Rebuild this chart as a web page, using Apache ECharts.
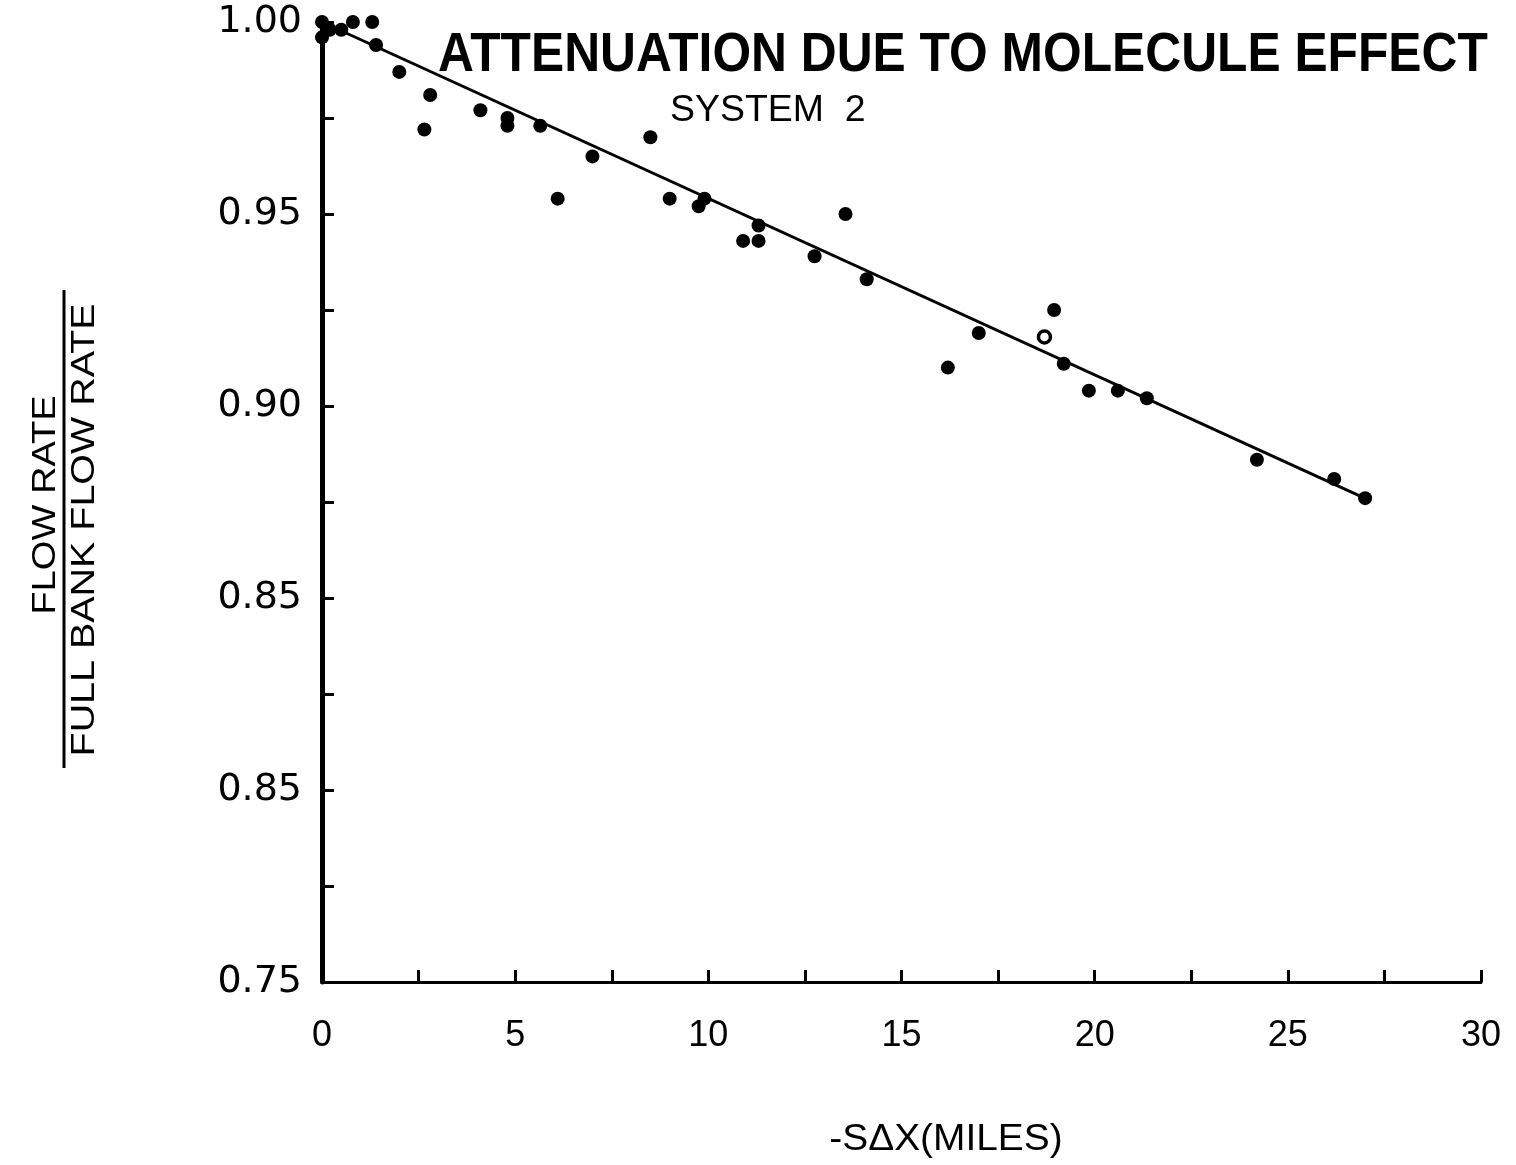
<!DOCTYPE html>
<html>
<head>
<meta charset="utf-8">
<title>Attenuation due to molecule effect</title>
<script src="https://cdn.jsdelivr.net/npm/echarts@6/dist/echarts.min.js"></script>
<style>
  html, body { margin: 0; padding: 0; background: #fff; }
  #main { width: 1516px; height: 1165px; }
</style>
</head>
<body>
<div id="main"></div>
<script>
// measured points (-S dX in miles, flow rate ratio)
var xValues = [0, 0, 0.2, 0.5, 0.8, 1.3, 1.4, 2.0, 2.8, 2.65, 4.1, 4.8, 4.8, 5.65, 7.0, 8.5,
  6.1, 9.0, 9.9, 9.75, 11.3, 10.9, 11.3, 13.55, 12.75, 14.1, 16.2, 17.0, 18.95, 19.2,
  19.85, 20.6, 21.35, 24.2, 26.2, 27.0];
var yValues = [1.000, 0.996, 0.998, 0.998, 1.000, 1.000, 0.994, 0.987, 0.981, 0.972, 0.977, 0.975, 0.973, 0.973, 0.965, 0.970,
  0.954, 0.954, 0.954, 0.952, 0.947, 0.943, 0.943, 0.950, 0.939, 0.933, 0.910, 0.919, 0.925, 0.911,
  0.904, 0.904, 0.902, 0.886, 0.881, 0.876];
// the one open circle
var openX = [18.7];
var openY = [0.918];
// fitted straight line
var fitX = [0, 27.1];
var fitY = [1.000, 0.8755];

// tick labels as printed on the figure (0.85 appears twice in the original)
var xTickValues = [0, 5, 10, 15, 20, 25, 30];
var xTickLabels = ['0', '5', '10', '15', '20', '25', '30'];
var yTickValues = [0.75, 0.80, 0.85, 0.90, 0.95, 1.00];
var yTickLabels = ['0.75', '0.85', '0.85', '0.90', '0.95', '1.00'];

function pairs(xs, ys) {
  var out = [];
  for (var i = 0; i < xs.length; i++) out.push([xs[i], ys[i]]);
  return out;
}

function lookup(vals, labels, v) {
  for (var i = 0; i < vals.length; i++) {
    if (Math.abs(vals[i] - v) < 1e-6) return labels[i];
  }
  return '';
}

var myChart = echarts.init(document.getElementById('main'));

var option = {
  backgroundColor: '#fff',
  animation: false,
  grid: { left: 322, right: 35, top: 22, bottom: 183 },
  xAxis: {
    type: 'value',
    min: 0, max: 30, interval: 2.5,
    axisLine: { lineStyle: { color: '#000', width: 3 } },
    axisTick: { inside: true, length: 12, lineStyle: { color: '#000', width: 3 } },
    axisLabel: {
      margin: 36,
      color: '#000',
      fontFamily: 'Liberation Sans',
      fontSize: 36,
      formatter: function (v) { return lookup(xTickValues, xTickLabels, v); }
    },
    splitLine: { show: false }
  },
  yAxis: {
    type: 'value',
    min: 0.75, max: 1.0, interval: 0.025,
    axisLine: { lineStyle: { color: '#000', width: 5 } },
    axisTick: { inside: true, length: 12, lineStyle: { color: '#000', width: 3 } },
    axisLabel: {
      margin: 20,
      color: '#000',
      fontFamily: 'DejaVu Sans',
      fontSize: 38,
      formatter: function (v) { return lookup(yTickValues, yTickLabels, v); }
    },
    splitLine: { show: false }
  },
  graphic: [
    {
      type: 'text', x: 438, y: 56, scaleX: 0.888,
      style: {
        text: 'ATTENUATION DUE TO MOLECULE EFFECT',
        font: 'bold 56px "Liberation Sans"',
        fill: '#000', align: 'left', verticalAlign: 'middle'
      }
    },
    {
      type: 'text', x: 670, y: 111, scaleX: 1.04,
      style: {
        text: 'SYSTEM  2',
        font: '36px "Liberation Sans"',
        fill: '#000', align: 'left', verticalAlign: 'middle'
      }
    },
    {
      type: 'text', x: 946, y: 1140, scaleX: 1.08,
      style: {
        text: '-S\u0394X(MILES)',
        font: '36px "Liberation Sans"',
        fill: '#000', align: 'center', verticalAlign: 'middle'
      }
    },
    {
      type: 'text', x: 46, y: 505, rotation: Math.PI / 2, scaleX: 1.12,
      style: {
        text: 'FLOW RATE',
        font: '34px "Liberation Sans"',
        fill: '#000', align: 'center', verticalAlign: 'middle'
      }
    },
    {
      type: 'line',
      shape: { x1: 64, y1: 290, x2: 64, y2: 768 },
      style: { stroke: '#000', lineWidth: 3 }
    },
    {
      type: 'text', x: 85, y: 530, rotation: Math.PI / 2, scaleX: 1.16,
      style: {
        text: 'FULL BANK FLOW RATE',
        font: '34px "Liberation Sans"',
        fill: '#000', align: 'center', verticalAlign: 'middle'
      }
    }
  ],
  series: [
    {
      type: 'line',
      data: pairs(fitX, fitY),
      symbol: 'none',
      lineStyle: { color: '#000', width: 3 },
      z: 2
    },
    {
      type: 'scatter',
      data: pairs(xValues, yValues),
      symbol: 'circle',
      symbolSize: 14,
      itemStyle: { color: '#000', opacity: 1 },
      z: 3
    },
    {
      type: 'scatter',
      data: pairs(openX, openY),
      symbol: 'circle',
      symbolSize: 12,
      itemStyle: { color: '#fff', borderColor: '#000', borderWidth: 3.5, opacity: 1 },
      z: 3
    }
  ]
};

myChart.setOption(option);
</script>
</body>
</html>
